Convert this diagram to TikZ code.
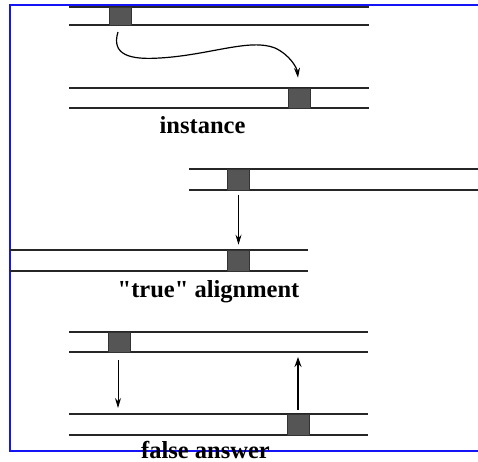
\documentclass[tikz,border=0pt]{standalone}
\usepackage{fontspec}
\setmainfont{Liberation Serif}[Ligatures=TeXOff]
\usetikzlibrary{arrows.meta}
\definecolor{frameblue}{RGB}{20,20,245}
\definecolor{segfill}{RGB}{85,85,85}
\tikzset{
    strand/.style={
        line width=1.4pt,
        black!85
    },
    segbox/.style={
        draw=black!80,
        line width=0.6pt,
        fill=segfill,
        inner sep=0pt,
        minimum width=22pt,
        minimum height=20pt
    },
    % arrows between the segments
    thinarrow/.style={
        line width=1pt,
        black,
        ->,
        >={Stealth[length=10pt, width=6pt]}
    },
    thickarrow/.style={
        line width=1.5pt,
        black,
        ->,
        >={Stealth[length=10pt, width=7pt]}
    },
    caption/.style={
        anchor=base,
        inner sep=0pt,
        font=\bfseries\fontsize{24.5}{28}\selectfont
    }
}

\begin{document}
\begin{tikzpicture}[x=1pt, y=-1pt]
	\useasboundingbox (0,0) rectangle (478,461);
	\draw[line width=2pt, frameblue] (478,5) -- (10,5) -- (10,451) -- (478,451);

	\draw[strand] (69,7) -- (369,7);
	\draw[strand] (69,25) -- (369,25);
	\draw[strand] (69,88) -- (369,88);
	\draw[strand] (69,108) -- (369,108);

	\draw[strand] (189,169) -- (478,169);
	\draw[strand] (189,190) -- (478,190);
	\draw[strand] (10,250) -- (308,250);
	\draw[strand] (10,271) -- (308,271);

	\draw[strand] (69,332) -- (368,332);
	\draw[strand] (69,352) -- (368,352);
	\draw[strand] (69,414) -- (368,414);
	\draw[strand] (69,435) -- (368,435);

	\node[segbox, minimum height=18pt] (s1) at (120,16) {};
	\node[segbox] (s2) at (299,98) {};
	\node[segbox, minimum height=21pt] (s3) at (238.5,179.5) {};
	\node[segbox, minimum height=21pt] (s4) at (238.5,260.5) {};
	\node[segbox] (s5) at (119.5,342) {};
	\node[segbox, minimum height=21pt] (s6) at (298,424.5) {};
	\coordinate (f1) at (118,414);
	\coordinate (f2) at (298,352);

	\draw[thinarrow, line width=1.2pt, shorten <=7pt, shorten >=10pt] (s1.south) .. controls (111,55) and (130,60) .. (160,58)
		.. controls (210,55) and (250,38) .. (275,48) .. controls (290,55) and (297,68) .. (s2.north);
	\draw[thinarrow, line width=0.8pt, shorten <=5pt, shorten >=5pt] (s3.south) -- (s4.north);
	\draw[thinarrow, shorten <=8pt, shorten >=6pt] (s5.south -| f1) -- (f1);
	\draw[thickarrow, shorten <=4pt, shorten >=5pt] (s6.north) -- (f2);

	\node[caption] (t1) at (202.5,133) {instance};
	\node[caption] (t2) at (208.5,297) {"true" alignment};
	\node[caption] (t3) at (205.5,458) {false answer};
\end{tikzpicture}
\end{document}
